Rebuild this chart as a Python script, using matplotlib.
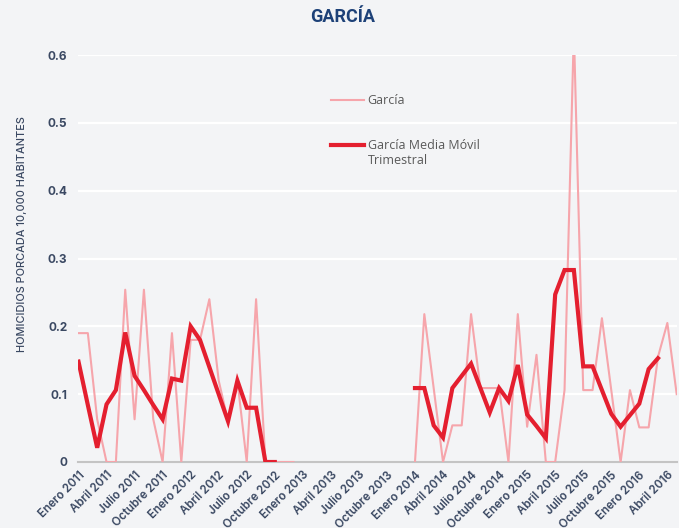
import matplotlib
matplotlib.use("Agg")
import matplotlib.pyplot as plt
from matplotlib.legend_handler import HandlerLine2D
import numpy as np

# ---- data ----
month_names = ["Enero", "Febrero", "Marzo", "Abril", "Mayo", "Junio", "Julio",
               "Agosto", "Septiembre", "Octubre", "Noviembre", "Diciembre"]
years = [2011, 2012, 2013, 2014, 2015, 2016]

garcia = [
    0.19, 0.19, 0.063, 0.0, 0.0, 0.254, 0.063, 0.254, 0.063, 0.0, 0.19, 0.0,      # 2011
    0.18, 0.18, 0.24, 0.12, 0.06, 0.12, 0.0, 0.24, 0.0, 0.0, 0.0, 0.0,            # 2012
    None, None, None, None, None, None, None, None, None, None, None, None,      # 2013
    0.0, 0.218, 0.109, 0.0, 0.054, 0.054, 0.218, 0.109, 0.109, 0.109, 0.0, 0.218, # 2014
    0.052, 0.158, 0.0, 0.0, 0.106, 0.636, 0.106, 0.106, 0.212, 0.106, 0.0, 0.106, # 2015
    0.051, 0.051, 0.155, 0.205, 0.10,                                           # 2016
]

garcia_mm = [
    0.148, 0.084, 0.021, 0.085, 0.106, 0.191, 0.127, 0.106, 0.084, 0.063, 0.123, 0.12,
    0.20, 0.18, 0.14, 0.10, 0.06, 0.12, 0.08, 0.08, 0.0, 0.0, None, None,
    None, None, None, None, None, None, None, None, None, None, None, None,
    0.109, 0.109, 0.054, 0.036, 0.109, 0.127, 0.145, 0.109, 0.073, 0.109, 0.09, 0.143,
    0.07, 0.053, 0.035, 0.247, 0.283, 0.283, 0.141, 0.141, 0.106, 0.071, 0.052, 0.069,
    0.086, 0.137, 0.153, None, None,
]

month_labels = [f"{m} {y}" for y in years for m in month_names][:len(garcia)]
y_ticks = [0, 0.1, 0.2, 0.3, 0.4, 0.5, 0.6]
y_tick_labels = ["0", "0.1", "0.2", "0.3", "0.4", "0.5", "0.6"]

title = "GARCÍA"
ylabel = "HOMICIDIOS PORCADA 10,000 HABITANTES"
label_raw = "García"
label_mm = "García Media Móvil\nTrimestral"

# ---- styling ----
BG = "#f3f4f6"
PINK = "#f6a5ab"
RED = "#e41f2f"
TXT = "#3a4862"
NAVY = "#1d4178"


class FirstLineHandler(HandlerLine2D):
    """Place the legend line next to the first line of a two-line label."""
    def __init__(self, offset_pt=0.0, **kw):
        super().__init__(**kw)
        self.offset_pt = offset_pt

    def create_artists(self, legend, orig_handle, xdescent, ydescent,
                       width, height, fontsize, trans):
        arts = super().create_artists(legend, orig_handle, xdescent, ydescent,
                                      width, height, fontsize, trans)
        for a in arts:
            yd = np.asarray(a.get_ydata(), dtype=float)
            a.set_ydata(yd + self.offset_pt)
        return arts


x = np.arange(len(garcia))
raw = np.array([np.nan if v is None else v for v in garcia], dtype=float)
mm = np.array([np.nan if v is None else v for v in garcia_mm], dtype=float)

fig = plt.figure(figsize=(6.79, 5.28), dpi=100, facecolor=BG)
ax = fig.add_axes([0.1156, 0.125, 0.881, 0.7708], facecolor=BG)

l_raw, = ax.plot(x, raw, color=PINK, lw=1.5, label=label_raw, zorder=3)
l_mm, = ax.plot(x, mm, color=RED, lw=3.0, label=label_mm, zorder=4,
                solid_joinstyle="miter")

ax.set_xlim(0, len(garcia) - 1)
ax.set_ylim(0, 0.6)

ax.set_yticks(y_ticks)
ax.set_yticklabels(y_tick_labels, fontfamily="Inter", fontweight="bold",
                   fontsize=8.5, color=TXT)
tick_idx = list(range(0, len(garcia), 3))
ax.set_xticks(tick_idx)
ax.set_xticklabels([month_labels[i] for i in tick_idx], rotation=45, ha="right",
                   va="top", rotation_mode="anchor", fontfamily="Inter",
                   fontweight="semibold", fontsize=8.3, color=TXT)
ax.tick_params(axis="both", length=0)
ax.tick_params(axis="y", pad=8)
ax.tick_params(axis="x", pad=5)

ax.grid(axis="y", color="white", lw=1.6, zorder=1)
ax.set_axisbelow(True)
for s in ["top", "right", "left"]:
    ax.spines[s].set_visible(False)
ax.spines["bottom"].set_color("#c4c4c4")
ax.spines["bottom"].set_linewidth(1.5)
ax.spines["bottom"].set_zorder(2)

fig.text(0.5052, 0.968, title, ha="center", va="center", fontfamily="Roboto",
         fontweight="bold", fontsize=13, color=NAVY)
fig.text(0.033, 0.556, ylabel, rotation=90, ha="center", va="center",
         fontfamily="Inter", fontweight="medium", fontsize=7.9, color=TXT)

leg = ax.legend(handles=[l_raw, l_mm], loc="upper left",
                bbox_to_anchor=(0.404, 0.932), frameon=False,
                handlelength=2.6, handletextpad=0.3, labelspacing=2.55,
                prop={"family": "Open Sans", "size": 9},
                handler_map={l_mm: FirstLineHandler(offset_pt=5.8)})
for t in leg.get_texts():
    t.set_color("#595959")

fig.savefig("out.png", dpi=100, facecolor=BG)
